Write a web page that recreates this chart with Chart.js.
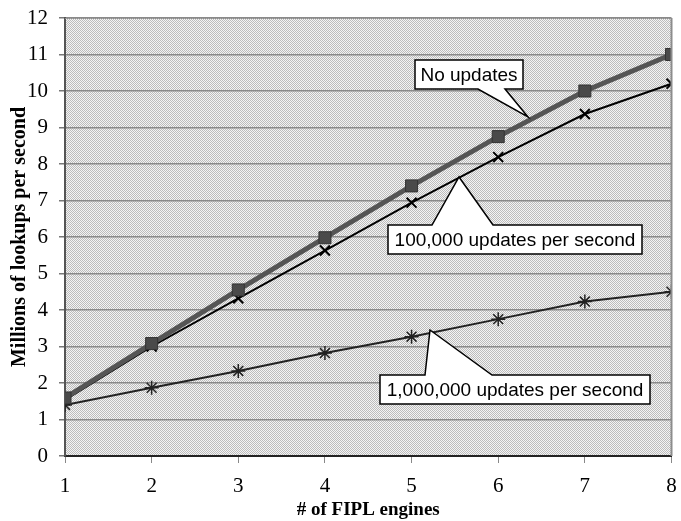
<!DOCTYPE html>
<html lang="en">
<head>
  <meta charset="UTF-8" />
  <title>Millions of lookups per second vs FIPL engines</title>
  <script src="https://cdn.jsdelivr.net/npm/chart.js"></script>
  <style>
    body {
      margin: 0;
      background: #fff;
    }
    #wrap {
      width: 681px;
      height: 521px;
    }
  </style>
</head>
<body>
  <div id="wrap"><canvas id="chart" width="681" height="521"></canvas></div>

  <script>
    // data
    const engines = [1, 2, 3, 4, 5, 6, 7, 8];
    const noUpdates = [1.59, 3.08, 4.55, 5.98, 7.4, 8.75, 10.0, 11.0];
    const updates100k = [1.54, 3.0, 4.32, 5.63, 6.94, 8.19, 9.37, 10.2];
    const updates1M = [1.4, 1.87, 2.33, 2.82, 3.27, 3.75, 4.23, 4.5];
    const yTicks = [0, 1, 2, 3, 4, 5, 6, 7, 8, 9, 10, 11, 12];

    // callout boxes (pixels): box, wedge base xs, wedge tip
    const callouts = [
      { text: 'No updates', x: 415, y: 60, w: 108, h: 29, side: 'bottom', b1: 478, b2: 505, tip: [528, 117] },
      { text: '100,000 updates per second', x: 388, y: 225, w: 254, h: 29, side: 'top', b1: 432, b2: 493, tip: [459, 177] },
      { text: '1,000,000 updates per second', x: 380, y: 375, w: 270, h: 29, side: 'top', b1: 425, b2: 492, tip: [430, 330] }
    ];

    function makeStipple(ctx) {
      const c = document.createElement('canvas');
      c.width = 2;
      c.height = 2;
      const p = c.getContext('2d');
      p.fillStyle = '#f4f4f4';
      p.fillRect(0, 0, 2, 2);
      p.fillStyle = '#bcbcbc';
      p.fillRect(0, 0, 1, 1);
      p.fillRect(1, 1, 1, 1);
      return ctx.createPattern(c, 'repeat');
    }

    const plotBg = {
      id: 'plotBg',
      beforeDraw(chart) {
        const { ctx, chartArea: a } = chart;
        ctx.save();
        ctx.fillStyle = makeStipple(ctx);
        ctx.fillRect(a.left, a.top, a.right - a.left, a.bottom - a.top);
        ctx.restore();
      },
      afterDraw(chart) {
        const { ctx, chartArea: a } = chart;
        ctx.save();
        // top edge (dotted) and right edge
        ctx.strokeStyle = '#8c8c8c';
        ctx.lineWidth = 1;
        ctx.setLineDash([1, 1]);
        ctx.beginPath();
        ctx.moveTo(a.left, a.top + 0.5);
        ctx.lineTo(a.right, a.top + 0.5);
        ctx.stroke();
        ctx.setLineDash([]);
        ctx.lineWidth = 2;
        ctx.beginPath();
        ctx.moveTo(a.right, a.top);
        ctx.lineTo(a.right, a.bottom);
        ctx.stroke();

        // callouts
        ctx.font = '19px "Liberation Sans", Arial, sans-serif';
        ctx.textAlign = 'center';
        ctx.textBaseline = 'middle';
        for (const c of callouts) {
          const r = c.x + c.w, b = c.y + c.h;
          ctx.beginPath();
          if (c.side === 'top') {
            ctx.moveTo(c.x, c.y);
            ctx.lineTo(c.b1, c.y);
            ctx.lineTo(c.tip[0], c.tip[1]);
            ctx.lineTo(c.b2, c.y);
            ctx.lineTo(r, c.y);
            ctx.lineTo(r, b);
            ctx.lineTo(c.x, b);
          } else {
            ctx.moveTo(c.x, c.y);
            ctx.lineTo(r, c.y);
            ctx.lineTo(r, b);
            ctx.lineTo(c.b2, b);
            ctx.lineTo(c.tip[0], c.tip[1]);
            ctx.lineTo(c.b1, b);
            ctx.lineTo(c.x, b);
          }
          ctx.closePath();
          ctx.fillStyle = '#fff';
          ctx.fill();
          ctx.strokeStyle = '#000';
          ctx.lineWidth = 1.5;
          ctx.stroke();
          ctx.fillStyle = '#000';
          ctx.fillText(c.text, c.x + c.w / 2, c.y + c.h / 2 + 1);
        }
        ctx.restore();
      }
    };

    const serif = '"Liberation Serif", "Times New Roman", serif';

    new Chart(document.getElementById('chart'), {
      type: 'line',
      data: {
        datasets: [
          {
            label: 'No updates',
            data: engines.map((x, i) => ({ x, y: noUpdates[i] })),
            borderColor: '#555',
            borderWidth: 5,
            pointStyle: 'rect',
            pointRadius: 8.5,
            pointBackgroundColor: '#4a4a4a',
            pointBorderColor: '#333',
            pointBorderWidth: 1,
            order: 1
          },
          {
            label: '100,000 updates per second',
            data: engines.map((x, i) => ({ x, y: updates100k[i] })),
            borderColor: '#000',
            borderWidth: 2,
            pointStyle: 'crossRot',
            pointRadius: 7,
            pointBorderColor: '#000',
            pointBorderWidth: 2,
            order: 2
          },
          {
            label: '1,000,000 updates per second',
            data: engines.map((x, i) => ({ x, y: updates1M[i] })),
            borderColor: '#222',
            borderWidth: 2,
            pointStyle: 'star',
            pointRadius: 7,
            pointBorderColor: '#222',
            pointBorderWidth: 1.5,
            order: 3
          }
        ]
      },
      options: {
        responsive: false,
        animation: false,
        layout: { padding: { top: 18, right: 9, left: 0, bottom: 0 } },
        plugins: {
          legend: { display: false },
          tooltip: { enabled: false }
        },
        elements: { line: { tension: 0 } },
        scales: {
          x: {
            type: 'linear',
            min: 1,
            max: 8,
            afterFit(scale) {
              scale.height = 65;
              scale.paddingLeft = 0;
              scale.paddingRight = 0;
            },
            ticks: {
              stepSize: 1,
              color: '#000',
              padding: 11,
              font: { family: serif, size: 21 }
            },
            grid: {
              drawOnChartArea: false,
              tickLength: 7,
              tickColor: '#888'
            },
            border: { color: '#222', width: 2 },
            title: {
              display: true,
              text: '# of FIPL engines',
              color: '#000',
              font: { family: serif, size: 19, weight: 'bold', lineHeight: 1 },
              padding: { top: 0, bottom: 1 }
            }
          },
          y: {
            min: 0,
            max: 12,
            afterFit(scale) {
              scale.width = 65;
              scale.paddingTop = 0;
              scale.paddingBottom = 0;
            },
            afterBuildTicks(scale) { scale.ticks = yTicks.map(v => ({ value: v })); },
            ticks: {
              color: '#000',
              padding: 11,
              font: { family: serif, size: 21 }
            },
            grid: {
              color: '#8a8a8a',
              lineWidth: 1.5,
              tickLength: 6,
              tickColor: '#777'
            },
            border: { color: '#555', width: 2 },
            title: {
              display: true,
              text: 'Millions of lookups per second',
              color: '#000',
              font: { family: serif, size: 20, weight: 'bold', lineHeight: 1 },
              padding: { top: 10, bottom: 0 }
            }
          }
        }
      },
      plugins: [plotBg]
    });
  </script>
</body>
</html>
